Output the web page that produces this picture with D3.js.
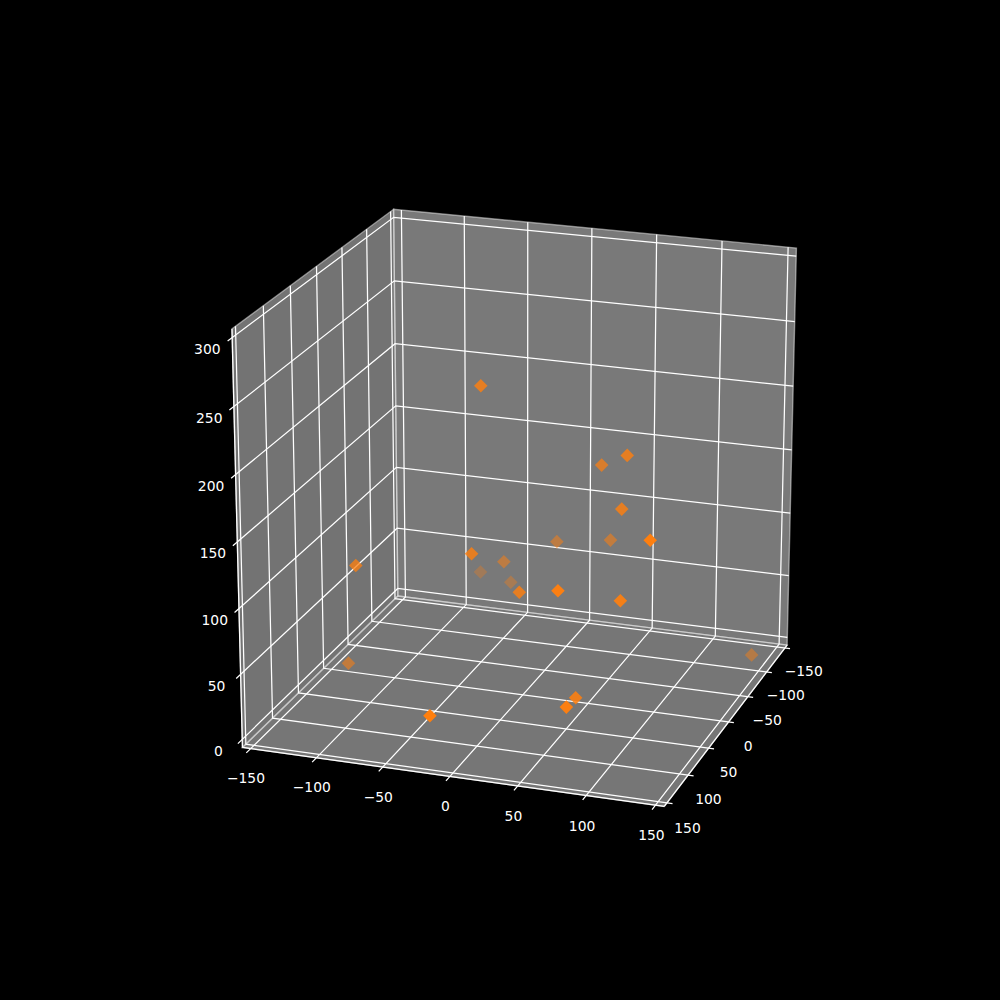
<!DOCTYPE html>
<html>
<head>
<meta charset="utf-8">
<script src="https://d3js.org/d3.v7.min.js"></script>
<style>
html, body { margin: 0; padding: 0; background: #000; }
svg { display: block; }
text { font-family: "DejaVu Sans", sans-serif; font-size: 13.89px; fill: #fff; text-anchor: middle; }
</style>
</head>
<body>
<div id="chart"></div>
<script>
// data
var xVals = [-30.5, 73.5, 47.2, 74.2, 112.2, 2.7, 44.7, -23.3, -32.6, -69.7, -41.9, 11.8, 53.1, 90.3, -106.2, -126.6, 143.2, -18.4, 63.3, 67.7];
var yVals = [3.5, -14.7, -37.2, -0.7, 53, -69, -67.2, 44.6, -51.6, -104.3, -93.8, 42.2, 78.9, 51.6, 59.2, 24.8, -104.5, 145.7, 69.1, 103.2];
var zVals = [230.5, 183.5, 165.5, 147.5, 147.5, 89.5, 96.5, 117.5, 75.5, 43.5, 42.5, 91.5, 111.5, 98.5, 103.5, 11.5, 4, 33, 27.5, 34.5];

var xTicks = [-150, -100, -50, 0, 50, 100, 150];
var yTicks = [-150, -100, -50, 0, 50, 100, 150];
var zTicks = [0, 50, 100, 150, 200, 250, 300];

// styles
var width = 1000, height = 1000;
var markerColor = "#ff7f0e";
var gridColor = "#fff";
var lineWidth = 1.25;
var elev = 20 * Math.PI / 180;
var azim = -71 * Math.PI / 180;
var dist = 10;
var pad = 6.25;       // panes stick out a little past the limits
var labelOffset = 15;
var labelDrop = 16.5;
var tickOutX = 8, tickOutY = 4, tickOutZ = 8;

var xScale = d3.scaleLinear().domain([-150, 150]).range([-0.5, 0.5]);
var yScale = d3.scaleLinear().domain([150, -150]).range([-0.5, 0.5]); // y runs towards the viewer
var zScale = d3.scaleLinear().domain([0, 300]).range([-0.5, 0.5]);

// 2d limits of the axes box
var screenX = d3.scaleLinear().domain([-0.095, 0.09]).range([125.5, 899.4]);
var screenY = d3.scaleLinear().domain([-0.095, 0.09]).range([890, 120]);

var n = [Math.cos(elev) * Math.cos(azim), Math.cos(elev) * Math.sin(azim), Math.sin(elev)];
var u = [-Math.sin(azim), Math.cos(azim), 0];
var v = [-Math.sin(elev) * Math.cos(azim), -Math.sin(elev) * Math.sin(azim), Math.cos(elev)];

function dot(a, b) { return a[0] * b[0] + a[1] * b[1] + a[2] * b[2]; }

// returns screen x, screen y, distance from the eye
function project(x, y, z) {
  var c = [xScale(x), yScale(y), zScale(z)];
  var d = dist - dot(n, c);
  return [screenX(dot(u, c) / d), screenY(dot(v, c) / d), d];
}

var line = d3.line().x(function(p) { return p[0]; }).y(function(p) { return p[1]; });

function path3d(points) {
  return line(points.map(function(p) { return project(p[0], p[1], p[2]); }));
}

var xMin = -150 - pad, xMax = 150 + pad;
var yMin = -150 - pad, yMax = 150 + pad;
var zMin = 0 - pad, zMax = 300 + pad;

var svg = d3.select("#chart").append("svg")
  .attr("width", width)
  .attr("height", height)
  .attr("viewBox", "0 0 " + width + " " + height);

svg.append("rect").attr("width", width).attr("height", height).attr("fill", "#000");

// panes
var panes = [
  { grey: 0.90, pts: [[xMin, yMin, zMin], [xMin, yMax, zMin], [xMin, yMax, zMax], [xMin, yMin, zMax]] },
  { grey: 0.95, pts: [[xMin, yMin, zMin], [xMax, yMin, zMin], [xMax, yMin, zMax], [xMin, yMin, zMax]] },
  { grey: 0.925, pts: [[xMin, yMin, zMin], [xMax, yMin, zMin], [xMax, yMax, zMin], [xMin, yMax, zMin]] }
];

svg.append("g").selectAll("path").data(panes).enter().append("path")
  .attr("d", function(d) { return path3d(d.pts) + "Z"; })
  .attr("fill", function(d) { return d3.rgb(d.grey * 255, d.grey * 255, d.grey * 255); })
  .attr("fill-opacity", 0.5)
  .attr("stroke", function(d) { return d3.rgb(d.grey * 255, d.grey * 255, d.grey * 255); })
  .attr("stroke-opacity", 0.5)
  .attr("stroke-width", 1.39);

var lines = svg.append("g")
  .attr("fill", "none")
  .attr("stroke", gridColor)
  .attr("stroke-width", lineWidth);

// axis lines
var axisLines = [
  [[xMin, yMax, zMin], [xMax, yMax, zMin]],
  [[xMax, yMin, zMin], [xMax, yMax, zMin]],
  [[xMin, yMax, zMin], [xMin, yMax, zMax]]
];
axisLines.forEach(function(d) { lines.append("path").attr("d", path3d(d)); });

// grid lines, each one runs over two panes and out past the edge as its tick
xTicks.forEach(function(t) {
  lines.append("path").attr("d", path3d([[t, yMax + tickOutX, zMin], [t, yMin, zMin], [t, yMin, zMax]]));
});
yTicks.forEach(function(t) {
  lines.append("path").attr("d", path3d([[xMax + tickOutY, t, zMin], [xMin, t, zMin], [xMin, t, zMax]]));
});
zTicks.forEach(function(t) {
  lines.append("path").attr("d", path3d([[xMin, yMax + tickOutZ, t], [xMin, yMin, t], [xMax, yMin, t]]));
});

// tick labels
function tickLabel(t) { return String(t).replace("-", "\u2212"); }

function addLabels(ticks, pos) {
  svg.append("g").selectAll("text").data(ticks).enter().append("text")
    .attr("x", function(t) { return pos(t)[0]; })
    .attr("y", function(t) { return pos(t)[1]; })
    .attr("dy", "0.36em")
    .text(tickLabel);
}

addLabels(xTicks, function(t) { return project(t + 1, yMax + 12, zMin - labelDrop - 1); });
addLabels(yTicks, function(t) { return project(xMax + labelOffset, t, zMin - labelDrop); });
addLabels(zTicks, function(t) { return project(xMin - 13, yMax + 13, t - 5.5); });

// points, far ones first and faded by depth
var points = xVals.map(function(x, i) {
  var p = project(x, yVals[i], zVals[i]);
  return { sx: p[0], sy: p[1], depth: p[2] };
});
var alpha = d3.scaleLinear()
  .domain(d3.extent(points, function(d) { return d.depth; }))
  .range([1, 0.3]);
points.sort(function(a, b) { return b.depth - a.depth; });

svg.append("g").selectAll("path").data(points).enter().append("path")
  .attr("d", d3.symbol().type(d3.symbolSquare).size(92))
  .attr("transform", function(d) { return "translate(" + d.sx + "," + d.sy + ") rotate(45)"; })
  .attr("fill", markerColor)
  .attr("fill-opacity", function(d) { return alpha(d.depth); });
</script>
</body>
</html>
